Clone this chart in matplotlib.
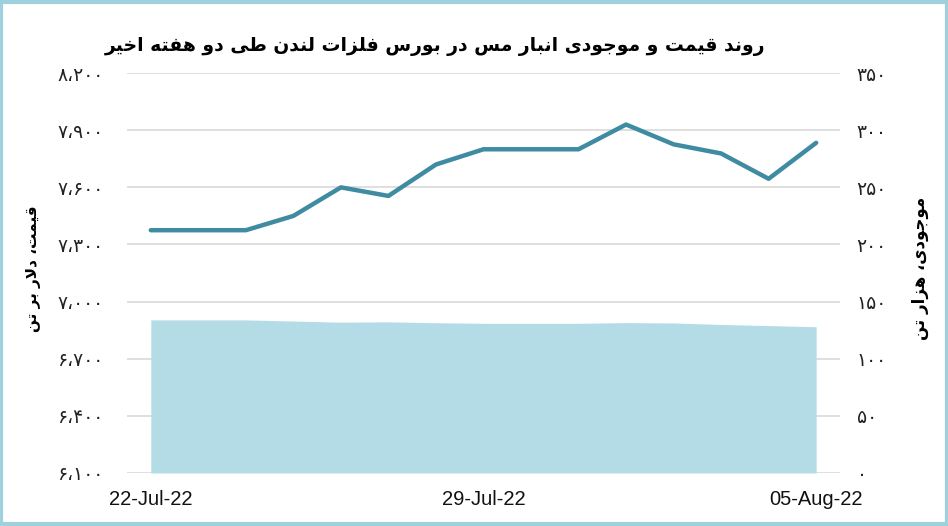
import matplotlib
matplotlib.use("Agg")
import matplotlib.pyplot as plt
from matplotlib.patches import Rectangle
from matplotlib.ticker import FixedLocator, FuncFormatter

# Data
dates = ["22-Jul-22", "23-Jul-22", "24-Jul-22", "25-Jul-22", "26-Jul-22",
         "27-Jul-22", "28-Jul-22", "29-Jul-22", "30-Jul-22", "31-Jul-22",
         "01-Aug-22", "02-Aug-22", "03-Aug-22", "04-Aug-22", "05-Aug-22"]
price = [7375, 7375, 7375, 7450, 7600, 7555, 7720, 7800, 7800, 7800,
         7930, 7826, 7778, 7645, 7834]
stock = [134, 134, 134, 133, 132, 132.3, 131.5, 131, 131, 131,
         131.6, 131.3, 130, 129, 128]
shown_dates = ["22-Jul-22", "29-Jul-22", "05-Aug-22"]
price_ticks = [6100, 6400, 6700, 7000, 7300, 7600, 7900, 8200]
stock_ticks = [0, 50, 100, 150, 200, 250, 300, 350]

title = "روند قیمت و موجودی انبار مس در بورس فلزات لندن طی دو هفته اخیر"
left_label = "قیمت، دلار بر تن"
right_label = "موجودی، هزار تن"

# Minimal Persian shaping: presentation forms + visual (reversed) order
FORMS = {
    "ا": ("\uFE8D", "\uFE8E", None, None),
    "ب": ("\uFE8F", "\uFE90", "\uFE91", "\uFE92"),
    "ت": ("\uFE95", "\uFE96", "\uFE97", "\uFE98"),
    "ج": ("\uFE9D", "\uFE9E", "\uFE9F", "\uFEA0"),
    "خ": ("\uFEA5", "\uFEA6", "\uFEA7", "\uFEA8"),
    "د": ("\uFEA9", "\uFEAA", None, None),
    "ر": ("\uFEAD", "\uFEAE", None, None),
    "ز": ("\uFEAF", "\uFEB0", None, None),
    "س": ("\uFEB1", "\uFEB2", "\uFEB3", "\uFEB4"),
    "ط": ("\uFEC1", "\uFEC2", "\uFEC3", "\uFEC4"),
    "ف": ("\uFED1", "\uFED2", "\uFED3", "\uFED4"),
    "ق": ("\uFED5", "\uFED6", "\uFED7", "\uFED8"),
    "ل": ("\uFEDD", "\uFEDE", "\uFEDF", "\uFEE0"),
    "م": ("\uFEE1", "\uFEE2", "\uFEE3", "\uFEE4"),
    "ن": ("\uFEE5", "\uFEE6", "\uFEE7", "\uFEE8"),
    "ه": ("\uFEE9", "\uFEEA", "\uFEEB", "\uFEEC"),
    "و": ("\uFEED", "\uFEEE", None, None),
    "ی": ("\uFBFC", "\uFBFD", "\uFBFE", "\uFBFF"),
}


def joins_left(ch):
    return ch in FORMS and FORMS[ch][2] is not None


def shape(text):
    chars = list(text)
    out = []
    i = 0
    while i < len(chars):
        ch = chars[i]
        prev = chars[i - 1] if i > 0 else ""
        nxt = chars[i + 1] if i + 1 < len(chars) else ""
        if ch not in FORMS:
            out.append(ch)
            i += 1
            continue
        linked_prev = joins_left(prev)
        if ch == "ل" and nxt == "ا":
            out.append("\uFEFC" if linked_prev else "\uFEFB")
            i += 2
            continue
        iso, fin, ini, med = FORMS[ch]
        linked_next = ini is not None and nxt in FORMS
        if linked_prev and linked_next:
            out.append(med)
        elif linked_prev:
            out.append(fin)
        elif linked_next:
            out.append(ini)
        else:
            out.append(iso)
        i += 1
    return "".join(reversed(out))


def fa_num(v):
    s = f"{int(v):,}".replace(",", "،")
    return s.translate(str.maketrans("0123456789", "۰۱۲۳۴۵۶۷۸۹"))


line_color = "#3f8ba1"
area_color = "#b4dce6"
grid_color = "#d9d9d9"

fig = plt.figure(figsize=(9.48, 5.26), dpi=100)
ax = fig.add_axes([0.134, 0.1008, 0.752, 0.7602])
ax2 = ax.twinx()

x = list(range(len(dates)))
ax.plot(x, price, color=line_color, linewidth=3.2, solid_capstyle="round", zorder=3)
ax2.fill_between(x, stock, 0, color=area_color, linewidth=0)

ax.set_xlim(-0.5, len(dates) - 0.5)
ax.set_ylim(price_ticks[0], price_ticks[-1])
ax2.set_ylim(stock_ticks[0], stock_ticks[-1])

ax.yaxis.set_major_locator(FixedLocator(price_ticks))
ax2.yaxis.set_major_locator(FixedLocator(stock_ticks))
ax.yaxis.set_major_formatter(FuncFormatter(lambda v, p: fa_num(v)))
ax2.yaxis.set_major_formatter(FuncFormatter(lambda v, p: fa_num(v)))

ax.set_xticks([dates.index(d) for d in shown_dates])
ax.set_xticklabels(shown_dates, family=["Liberation Sans Narrow", "Liberation Sans"],
                   fontsize=14.5, color="#111111")

ax.grid(axis="y", color=grid_color, linewidth=1.2)
ax.set_axisbelow(True)
for a in (ax, ax2):
    for s in a.spines.values():
        s.set_visible(False)
ax.tick_params(axis="both", length=0)
ax2.tick_params(axis="both", length=0)
ax.tick_params(axis="x", pad=12)
ax.tick_params(axis="y", pad=17, labelsize=13.5, labelcolor="#222222")
ax2.tick_params(axis="y", pad=12, labelsize=13.5, labelcolor="#222222")

fig.text(0.459, 0.912, shape(title), ha="center", va="center",
         fontsize=13.5, fontweight="bold", family="DejaVu Sans")
fig.text(0.035, 0.49, shape(left_label), rotation=90, ha="center", va="center",
         fontsize=11, fontweight="bold", family="DejaVu Sans")
fig.text(0.970, 0.49, shape(right_label), rotation=90, ha="center", va="center",
         fontsize=12, fontweight="bold", family="DejaVu Sans")

# light blue frame around the picture
fig.patches.append(Rectangle((0.0015, 0.003), 0.997, 0.994, transform=fig.transFigure,
                             fill=False, edgecolor="#9fd0de", linewidth=3))

fig.savefig("out.png", dpi=100)
